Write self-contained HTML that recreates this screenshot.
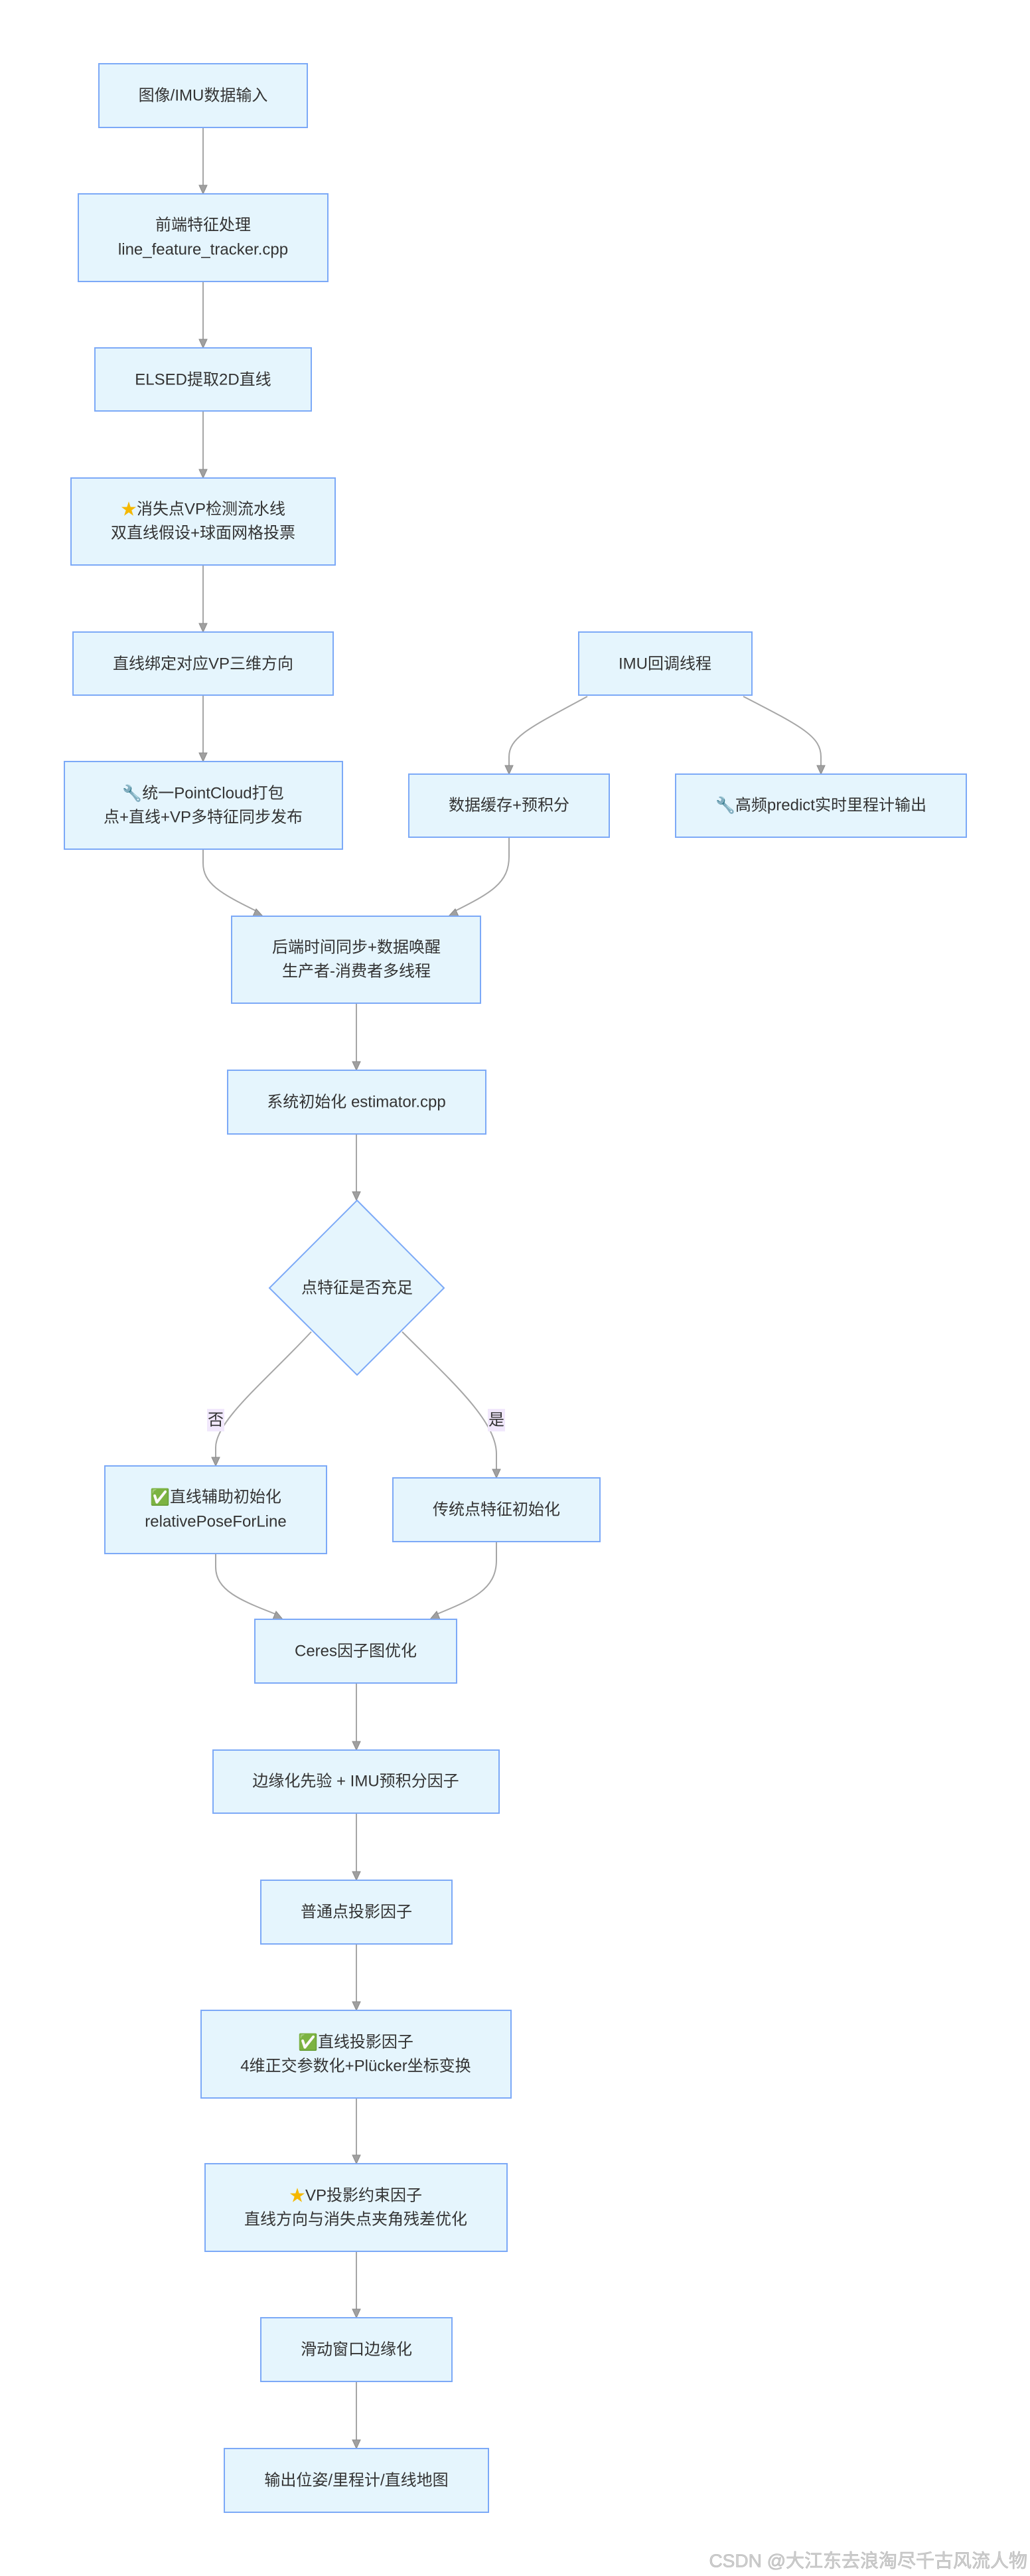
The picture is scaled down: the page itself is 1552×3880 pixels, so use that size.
<!DOCTYPE html>
<html><head><meta charset="utf-8"><style>
html,body{margin:0;padding:0;background:#fff;}
svg{display:block;}
text{font-family:"Liberation Sans","Noto Sans CJK SC",sans-serif;font-size:24px;fill:#333;text-anchor:middle;dominant-baseline:central;}
.b{fill:#e5f5fd;stroke:#7ca9f7;stroke-width:2;}
.e{fill:none;stroke:#a6a6a6;stroke-width:2;marker-end:url(#ah);}
</style></head><body>
<svg width="1552" height="3880" viewBox="0 0 1552 3880" xmlns="http://www.w3.org/2000/svg">
<defs>
<marker id="ah" viewBox="0 0 12 14" refX="6" refY="14" markerWidth="12" markerHeight="14" markerUnits="userSpaceOnUse" orient="auto-start-reverse">
</marker>
</defs>
<g fill="#a0a0a0" stroke="#888" stroke-width="1">
</g>
<!-- edges -->
<g fill="none" stroke="#a6a6a6" stroke-width="2">
<path d="M306,192 V280"/><path d="M306,424 V512"/><path d="M306,619 V708"/><path d="M306,851 V940"/><path d="M306,1047 V1135"/>
<path d="M885,1049 C800,1095 767,1110 767,1140 L767,1154"/>
<path d="M1120,1049 C1210,1095 1237,1110 1237,1140 L1237,1154"/>
<path d="M306,1279 L306,1300 C306,1330 330,1345 390,1374"/>
<path d="M767,1261 L767,1290 C767,1330 740,1345 682,1374"/>
<path d="M537,1511 V1600"/><path d="M537,1708 V1796"/>
<path d="M469,2006 C400,2080 325,2140 325,2180 L325,2196"/>
<path d="M606,2006 C680,2080 748,2140 748,2190 L748,2214"/>
<path d="M325,2340 L325,2360 C325,2395 360,2410 420,2433"/>
<path d="M748,2322 L748,2350 C748,2395 710,2410 654,2433"/>
<path d="M537,2535 V2624"/><path d="M537,2731 V2820"/><path d="M537,2928 V3016"/><path d="M537,3160 V3247"/><path d="M537,3391 V3479"/><path d="M537,3587 V3676"/>
</g>
<!-- arrowheads -->
<g fill="#a0a0a0" stroke="#8a8a8a" stroke-width="1">
<path d="M300,279 L312,279 L306,292 Z"/>
<path d="M300,511 L312,511 L306,524 Z"/>
<path d="M300,707 L312,707 L306,720 Z"/>
<path d="M300,939 L312,939 L306,952 Z"/>
<path d="M300,1134 L312,1134 L306,1147 Z"/>
<path d="M761,1153 L773,1153 L767,1166 Z"/>
<path d="M1231,1153 L1243,1153 L1237,1166 Z"/>
<path d="M386,1369 L396,1380 L381,1380 Z"/>
<path d="M686,1369 L676,1380 L691,1380 Z"/>
<path d="M531,1599 L543,1599 L537,1612 Z"/>
<path d="M531,1795 L543,1795 L537,1808 Z"/>
<path d="M319,2195 L331,2195 L325,2208 Z"/>
<path d="M742,2213 L754,2213 L748,2226 Z"/>
<path d="M416,2427 L426,2439 L411,2439 Z"/>
<path d="M658,2427 L648,2439 L663,2439 Z"/>
<path d="M531,2623 L543,2623 L537,2636 Z"/>
<path d="M531,2819 L543,2819 L537,2832 Z"/>
<path d="M531,3015 L543,3015 L537,3028 Z"/>
<path d="M531,3246 L543,3246 L537,3259 Z"/>
<path d="M531,3478 L543,3478 L537,3491 Z"/>
<path d="M531,3675 L543,3675 L537,3688 Z"/>
</g>
<!-- nodes -->
<rect class="b" x="149" y="96" width="314" height="96"/>
<text x="306" y="144">图像/IMU数据输入</text>
<rect class="b" x="118" y="292" width="376" height="132"/>
<text x="306" y="339">前端特征处理</text><text x="306" y="376">line_feature_tracker.cpp</text>
<rect class="b" x="143" y="524" width="326" height="95"/>
<text x="306" y="572">ELSED提取2D直线</text>
<rect class="b" x="107" y="720" width="398" height="131"/>
<text x="306" y="767"><tspan fill="#f5b800">★</tspan>消失点VP检测流水线</text><text x="306" y="803">双直线假设+球面网格投票</text>
<rect class="b" x="110" y="952" width="392" height="95"/>
<text x="306" y="1000">直线绑定对应VP三维方向</text>
<rect class="b" x="872" y="952" width="261" height="95"/>
<text x="1002" y="1000">IMU回调线程</text>
<rect class="b" x="97" y="1147" width="419" height="132"/>
<text x="306" y="1195"><tspan fill="#8a97a8">🔧</tspan>统一PointCloud打包</text><text x="306" y="1231">点+直线+VP多特征同步发布</text>
<rect class="b" x="616" y="1166" width="302" height="95"/>
<text x="767" y="1213">数据缓存+预积分</text>
<rect class="b" x="1018" y="1166" width="438" height="95"/>
<text x="1237" y="1213"><tspan fill="#8a97a8">🔧</tspan>高频predict实时里程计输出</text>
<rect class="b" x="349" y="1380" width="375" height="131"/>
<text x="537" y="1427">后端时间同步+数据唤醒</text><text x="537" y="1463">生产者-消费者多线程</text>
<rect class="b" x="343" y="1612" width="389" height="96"/>
<text x="537" y="1660">系统初始化 estimator.cpp</text>
<polygon class="b" points="538,1808 669,1940 538,2071 406,1940"/>
<text x="538" y="1940">点特征是否充足</text>
<rect x="312" y="2122" width="26" height="34" fill="#f1e8fc"/><text x="325" y="2139">否</text>
<rect x="735" y="2122" width="26" height="34" fill="#f1e8fc"/><text x="748" y="2139">是</text>
<rect class="b" x="158" y="2208" width="334" height="132"/>
<text x="325" y="2255"><tspan fill="#2ba84a">✅</tspan>直线辅助初始化</text><text x="325" y="2292">relativePoseForLine</text>
<rect class="b" x="592" y="2226" width="312" height="96"/>
<text x="748" y="2274">传统点特征初始化</text>
<rect class="b" x="384" y="2439" width="304" height="96"/>
<text x="536" y="2487">Ceres因子图优化</text>
<rect class="b" x="321" y="2636" width="431" height="95"/>
<text x="536" y="2683">边缘化先验 + IMU预积分因子</text>
<rect class="b" x="393" y="2832" width="288" height="96"/>
<text x="537" y="2880">普通点投影因子</text>
<rect class="b" x="303" y="3028" width="467" height="132"/>
<text x="536" y="3076"><tspan fill="#2ba84a">✅</tspan>直线投影因子</text><text x="536" y="3112">4维正交参数化+Plücker坐标变换</text>
<rect class="b" x="309" y="3259" width="455" height="132"/>
<text x="536" y="3307"><tspan fill="#f5b800">★</tspan>VP投影约束因子</text><text x="536" y="3343">直线方向与消失点夹角残差优化</text>
<rect class="b" x="393" y="3491" width="288" height="96"/>
<text x="537" y="3539">滑动窗口边缘化</text>
<rect class="b" x="338" y="3688" width="398" height="96"/>
<text x="537" y="3736">输出位姿/里程计/直线地图</text>
<text x="1548" y="3857" style="text-anchor:end;font-size:28px;fill:#d0d0d0;stroke:#b0b0b0;stroke-width:0.6">CSDN @大江东去浪淘尽千古风流人物</text>
</svg>
</body></html>
